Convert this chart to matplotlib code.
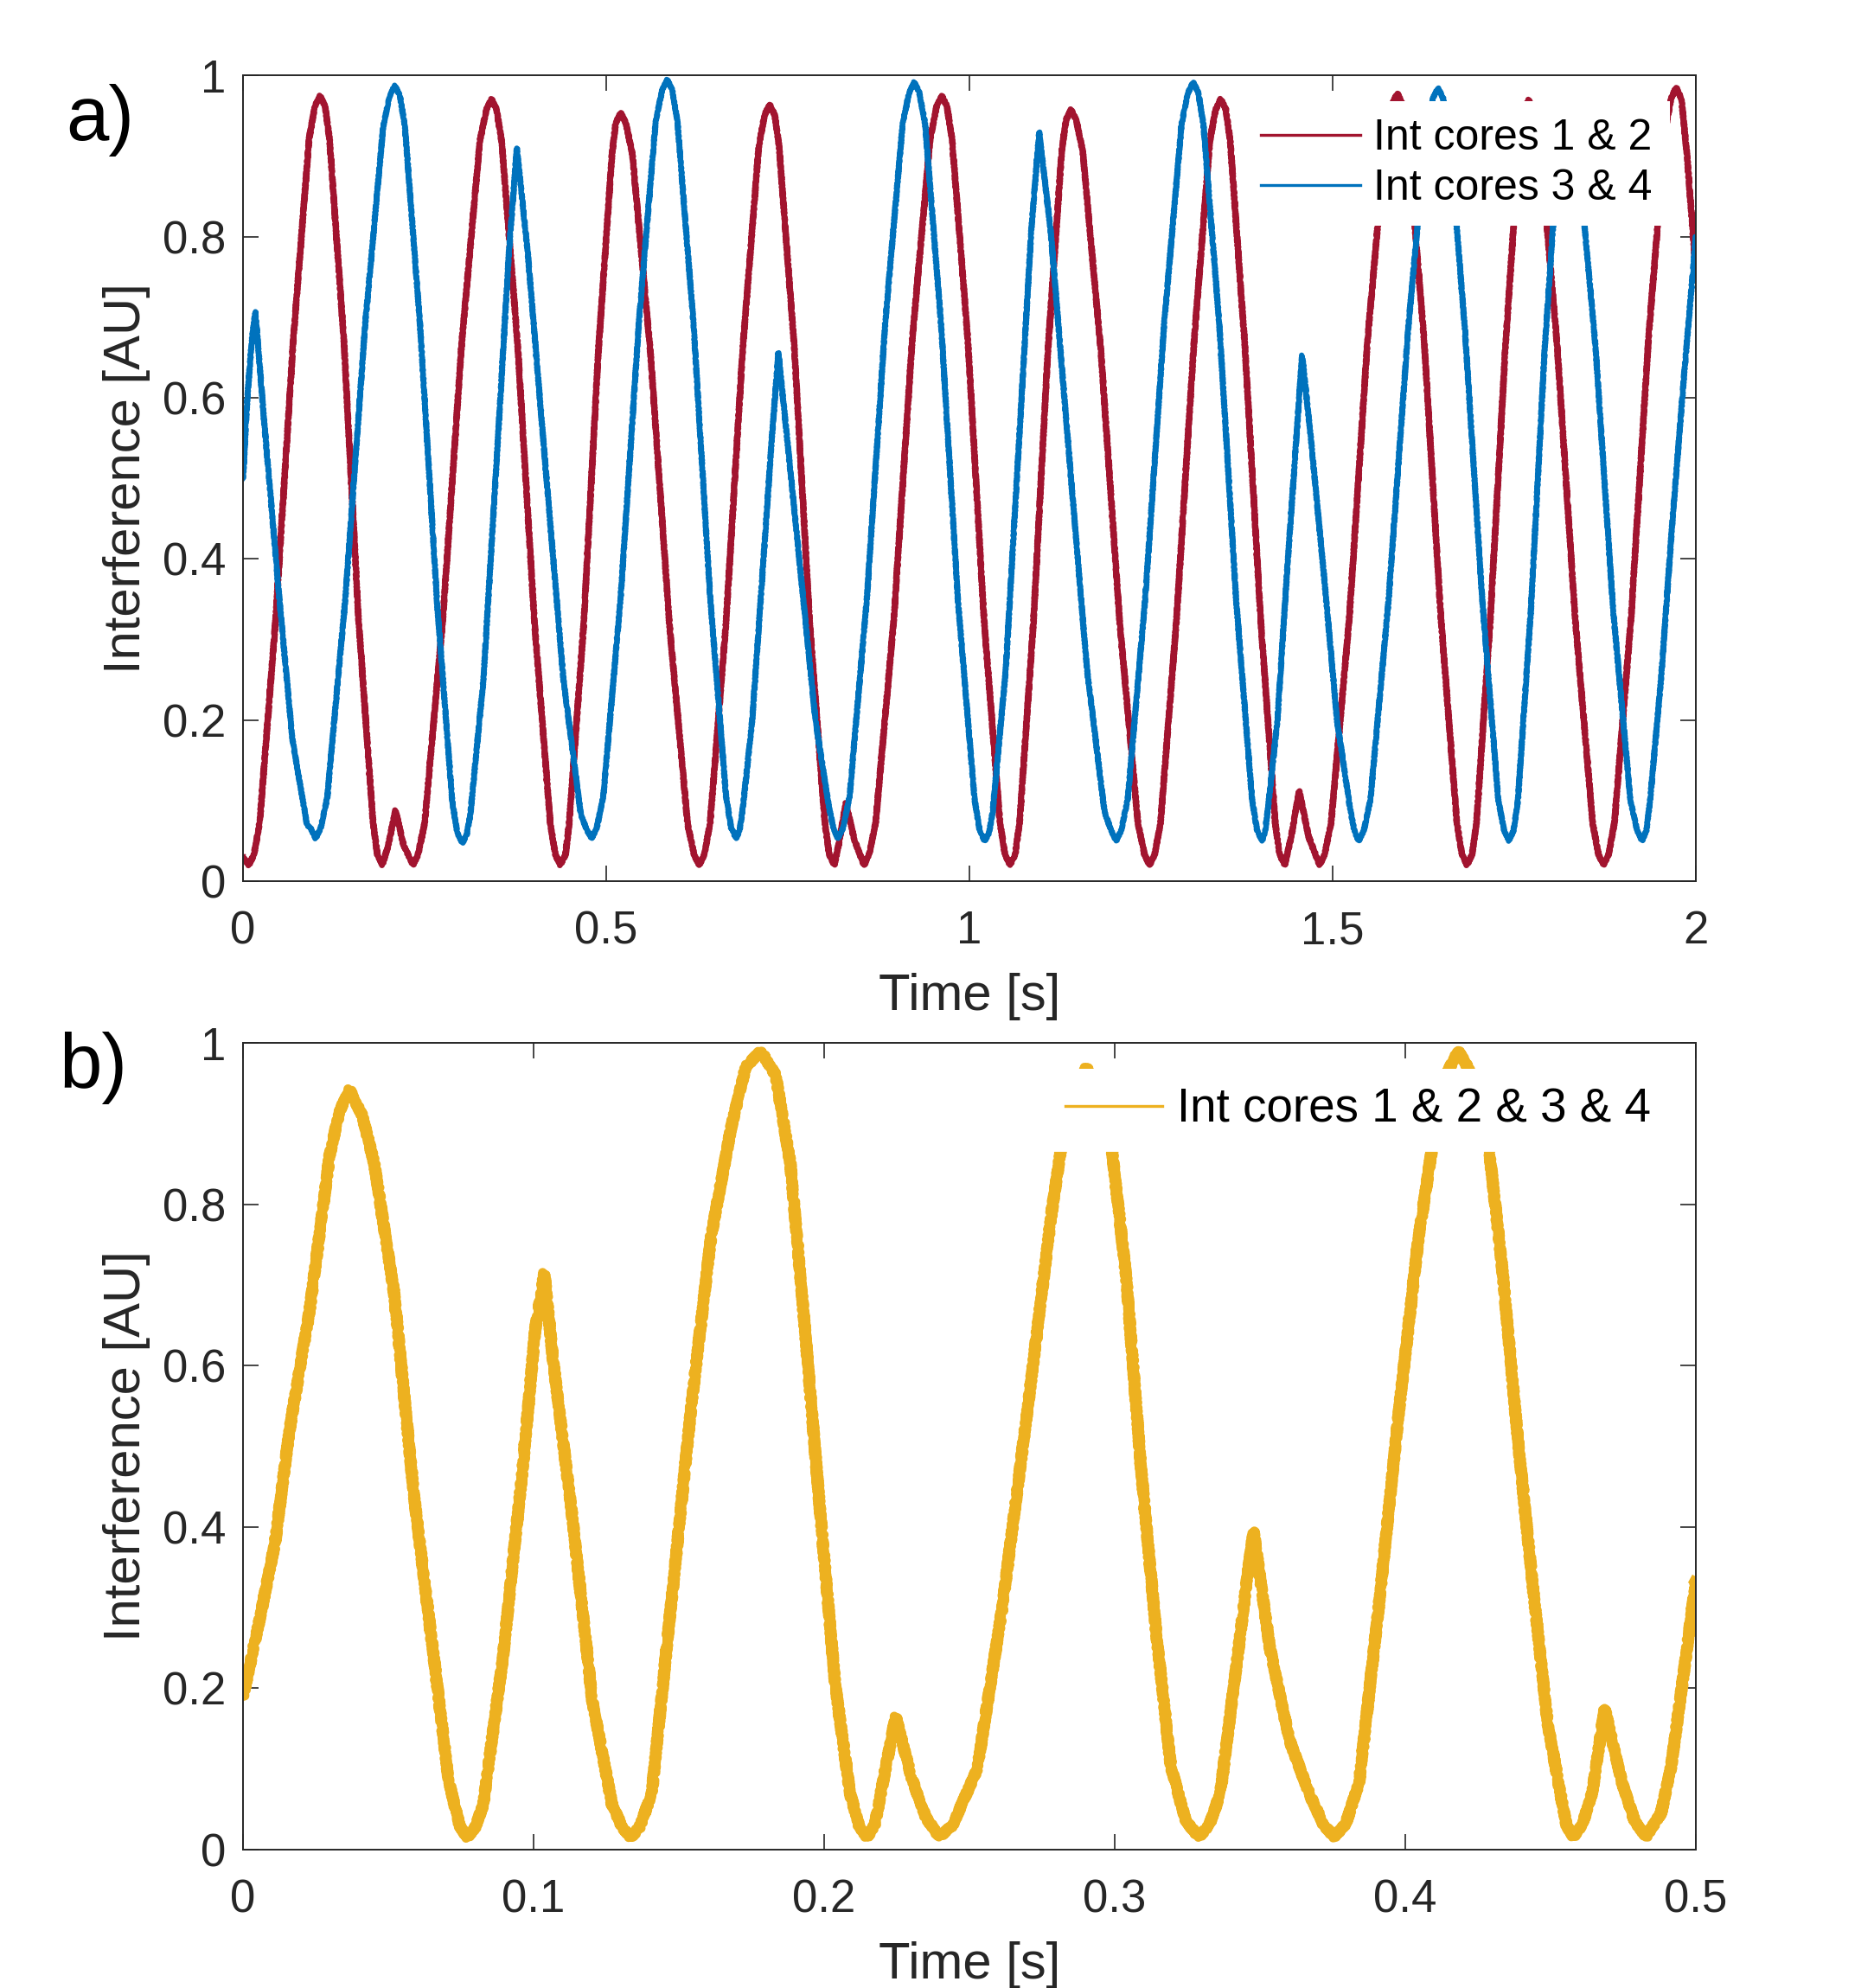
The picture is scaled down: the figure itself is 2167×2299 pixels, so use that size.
import matplotlib
matplotlib.use("Agg")
import matplotlib.pyplot as plt
from matplotlib.ticker import FuncFormatter

plt.rcParams['font.family'] = ['Liberation Sans', 'DejaVu Sans']

# ---------------- data ----------------
t_red = [0.000, 0.008, 0.015, 0.023, 0.045, 0.069, 0.091, 0.099, 0.106, 0.113, 0.119,
         0.139, 0.159, 0.179, 0.185, 0.192, 0.200, 0.210, 0.221, 0.234, 0.241, 0.250,
         0.275, 0.301, 0.326, 0.335, 0.342, 0.349, 0.356, 0.378, 0.401, 0.423, 0.430,
         0.437, 0.444, 0.449, 0.469, 0.489, 0.508, 0.513, 0.520, 0.527, 0.536, 0.561,
         0.587, 0.612, 0.621, 0.628, 0.635, 0.643, 0.665, 0.688, 0.710, 0.718, 0.725,
         0.732, 0.738, 0.759, 0.780, 0.801, 0.807, 0.814, 0.821, 0.830, 0.842, 0.855,
         0.862, 0.871, 0.896, 0.921, 0.946, 0.955, 0.962, 0.969, 0.976, 0.998, 1.020,
         1.042, 1.049, 1.056, 1.063, 1.069, 1.088, 1.108, 1.127, 1.133, 1.140, 1.147,
         1.156, 1.181, 1.207, 1.232, 1.241, 1.248, 1.255, 1.263, 1.285, 1.309, 1.331,
         1.339, 1.346, 1.353, 1.359, 1.379, 1.401, 1.421, 1.427, 1.434, 1.443, 1.454,
         1.467, 1.482, 1.489, 1.498, 1.523, 1.548, 1.573, 1.582, 1.589, 1.596, 1.603,
         1.626, 1.649, 1.671, 1.678, 1.685, 1.692, 1.698, 1.717, 1.738, 1.757, 1.763,
         1.770, 1.777, 1.785, 1.809, 1.834, 1.858, 1.866, 1.873, 1.880, 1.888, 1.911,
         1.935, 1.958, 1.966, 1.973, 1.980, 1.988, 2.000]
v_red = [0.030, 0.020, 0.033, 0.073, 0.326, 0.669, 0.922, 0.962, 0.975, 0.962, 0.922,
         0.669, 0.326, 0.073, 0.033, 0.020, 0.045, 0.088, 0.045, 0.020, 0.033, 0.072,
         0.324, 0.667, 0.919, 0.958, 0.971, 0.958, 0.919, 0.667, 0.324, 0.072, 0.033,
         0.020, 0.033, 0.071, 0.319, 0.655, 0.903, 0.941, 0.954, 0.941, 0.903, 0.655,
         0.319, 0.071, 0.033, 0.020, 0.033, 0.072, 0.322, 0.662, 0.912, 0.951, 0.964,
         0.951, 0.912, 0.662, 0.322, 0.072, 0.033, 0.020, 0.050, 0.097, 0.050, 0.020,
         0.033, 0.073, 0.326, 0.669, 0.922, 0.962, 0.975, 0.962, 0.922, 0.669, 0.326,
         0.073, 0.033, 0.020, 0.033, 0.072, 0.320, 0.658, 0.906, 0.945, 0.958, 0.945,
         0.906, 0.658, 0.320, 0.072, 0.033, 0.020, 0.033, 0.072, 0.324, 0.667, 0.919,
         0.958, 0.971, 0.958, 0.919, 0.667, 0.324, 0.072, 0.033, 0.020, 0.055, 0.112,
         0.055, 0.020, 0.033, 0.073, 0.327, 0.671, 0.925, 0.965, 0.978, 0.965, 0.925,
         0.671, 0.327, 0.073, 0.033, 0.020, 0.033, 0.072, 0.324, 0.666, 0.918, 0.957,
         0.970, 0.957, 0.918, 0.666, 0.324, 0.072, 0.033, 0.020, 0.033, 0.073, 0.329,
         0.676, 0.932, 0.972, 0.985, 0.972, 0.900, 0.755]

t_blue = [0.000, 0.006, 0.012, 0.017, 0.029, 0.049, 0.068, 0.088, 0.093, 0.100, 0.107,
          0.116, 0.141, 0.168, 0.193, 0.202, 0.209, 0.216, 0.223, 0.244, 0.267, 0.288,
          0.295, 0.302, 0.308, 0.313, 0.331, 0.349, 0.366, 0.377, 0.392, 0.416, 0.441,
          0.465, 0.473, 0.480, 0.487, 0.496, 0.520, 0.545, 0.568, 0.577, 0.584, 0.591,
          0.598, 0.620, 0.643, 0.665, 0.672, 0.679, 0.684, 0.688, 0.701, 0.715, 0.728,
          0.737, 0.749, 0.768, 0.788, 0.807, 0.813, 0.819, 0.826, 0.835, 0.859, 0.884,
          0.908, 0.917, 0.924, 0.931, 0.939, 0.961, 0.984, 1.007, 1.014, 1.021, 1.027,
          1.032, 1.050, 1.068, 1.085, 1.096, 1.112, 1.136, 1.162, 1.186, 1.195, 1.202,
          1.209, 1.218, 1.242, 1.268, 1.292, 1.301, 1.308, 1.315, 1.322, 1.344, 1.367,
          1.389, 1.396, 1.403, 1.407, 1.411, 1.424, 1.437, 1.450, 1.458, 1.470, 1.488,
          1.506, 1.524, 1.530, 1.536, 1.543, 1.552, 1.577, 1.604, 1.629, 1.638, 1.645,
          1.652, 1.660, 1.682, 1.706, 1.728, 1.736, 1.743, 1.749, 1.755, 1.773, 1.792,
          1.810, 1.815, 1.822, 1.829, 1.838, 1.862, 1.886, 1.910, 1.919, 1.926, 1.932,
          1.937, 1.952, 1.968, 1.984, 2.000]
v_blue = [0.500, 0.600, 0.670, 0.707, 0.572, 0.361, 0.176, 0.070, 0.066, 0.053, 0.066,
          0.104, 0.352, 0.689, 0.937, 0.975, 0.988, 0.975, 0.936, 0.687, 0.348, 0.099,
          0.060, 0.047, 0.058, 0.083, 0.251, 0.519, 0.780, 0.910, 0.780, 0.519, 0.251,
          0.083, 0.064, 0.053, 0.066, 0.105, 0.354, 0.694, 0.943, 0.982, 0.995, 0.982,
          0.943, 0.694, 0.354, 0.105, 0.066, 0.053, 0.065, 0.090, 0.200, 0.380, 0.550,
          0.656, 0.550, 0.380, 0.200, 0.090, 0.065, 0.053, 0.066, 0.105, 0.353, 0.692,
          0.940, 0.979, 0.992, 0.979, 0.940, 0.691, 0.351, 0.102, 0.063, 0.050, 0.060,
          0.086, 0.262, 0.542, 0.806, 0.930, 0.806, 0.542, 0.262, 0.086, 0.063, 0.050,
          0.063, 0.102, 0.351, 0.691, 0.940, 0.979, 0.992, 0.979, 0.940, 0.691, 0.351,
          0.102, 0.063, 0.050, 0.062, 0.090, 0.200, 0.380, 0.550, 0.653, 0.550, 0.380,
          0.200, 0.090, 0.062, 0.050, 0.063, 0.101, 0.349, 0.686, 0.934, 0.972, 0.985,
          0.972, 0.934, 0.686, 0.349, 0.101, 0.063, 0.050, 0.063, 0.100, 0.338, 0.662,
          0.900, 0.938, 0.950, 0.938, 0.900, 0.662, 0.338, 0.100, 0.063, 0.050, 0.063,
          0.100, 0.250, 0.450, 0.630, 0.800]

t_all = [0.0000, 0.0060, 0.0110, 0.0160, 0.0230, 0.0298, 0.0332, 0.0367, 0.0410, 0.0452,
         0.0520, 0.0588, 0.0656, 0.0708, 0.0745, 0.0771, 0.0800, 0.0827, 0.0895, 0.0963,
         0.1006, 0.1037, 0.1066, 0.1134, 0.1202, 0.1270, 0.1305, 0.1335, 0.1365, 0.1407,
         0.1475, 0.1543, 0.1611, 0.1680, 0.1730, 0.1782, 0.1833, 0.1884, 0.1935, 0.1986,
         0.2038, 0.2089, 0.2120, 0.2148, 0.2175, 0.2195, 0.2246, 0.2300, 0.2350, 0.2396,
         0.2442, 0.2527, 0.2613, 0.2698, 0.2783, 0.2834, 0.2903, 0.2988, 0.3039, 0.3090,
         0.3142, 0.3193, 0.3245, 0.3290, 0.3325, 0.3363, 0.3423, 0.3457, 0.3478, 0.3534,
         0.3602, 0.3670, 0.3720, 0.3756, 0.3795, 0.3841, 0.3910, 0.3978, 0.4046, 0.4097,
         0.4140, 0.4183, 0.4230, 0.4285, 0.4336, 0.4387, 0.4439, 0.4490, 0.4541, 0.4555,
         0.4579, 0.4610, 0.4643, 0.4686, 0.4746, 0.4790, 0.4828, 0.4880, 0.4915, 0.4966,
         0.5000]
v_all = [0.190, 0.290, 0.380, 0.520, 0.670, 0.860, 0.915, 0.942, 0.910, 0.850,
         0.690, 0.440, 0.240, 0.085, 0.030, 0.015, 0.028, 0.056, 0.240, 0.475,
         0.645, 0.715, 0.610, 0.410, 0.185, 0.056, 0.028, 0.015, 0.028, 0.070,
         0.310, 0.550, 0.760, 0.895, 0.970, 0.990, 0.960, 0.850, 0.640, 0.420,
         0.205, 0.070, 0.030, 0.015, 0.032, 0.070, 0.165, 0.090, 0.040, 0.016,
         0.030, 0.100, 0.300, 0.540, 0.790, 0.915, 0.970, 0.875, 0.712, 0.475,
         0.272, 0.103, 0.035, 0.016, 0.030, 0.069, 0.240, 0.340, 0.395, 0.250,
         0.135, 0.069, 0.030, 0.016, 0.032, 0.083, 0.306, 0.543, 0.760, 0.880,
         0.960, 0.990, 0.960, 0.880, 0.712, 0.510, 0.326, 0.157, 0.056, 0.030,
         0.016, 0.032, 0.070, 0.175, 0.083, 0.035, 0.016, 0.045, 0.103, 0.240,
         0.333]

label_red = "Int cores 1 & 2"
label_blue = "Int cores 3 & 4"
label_all = "Int cores 1 & 2 & 3 & 4"
xticks_a = [0, 0.5, 1, 1.5, 2]
xticks_b = [0, 0.1, 0.2, 0.3, 0.4, 0.5]
yticks = [0, 0.2, 0.4, 0.6, 0.8, 1]

# ---------------- styling ----------------
C_RED = '#A2142F'
C_BLUE = '#0072BD'
C_YEL = '#EDB120'
C_AX = '#262626'

W, H, DPI = 2167, 2299, 200
fig = plt.figure(figsize=(W / DPI, H / DPI), dpi=DPI)

ax1 = fig.add_axes([281 / W, 1 - 1019 / H, 1680 / W, 931.5 / H])
ax2 = fig.add_axes([281 / W, 1 - 2139 / H, 1680 / W, 933 / H])

fmt = FuncFormatter(lambda v, p: '%g' % v)

l1, = ax1.plot(t_red, v_red, color=C_RED, lw=2.4, label=label_red, solid_joinstyle='round')
l2, = ax1.plot(t_blue, v_blue, color=C_BLUE, lw=2.2, label=label_blue, solid_joinstyle='round')
l3, = ax2.plot(t_all, v_all, color=C_YEL, lw=3.8, label=label_all, solid_joinstyle='round')
for ln, sc in ((l1, 0.8), (l2, 0.8), (l3, 2.2)):
    ln.set_sketch_params(scale=sc, length=3, randomness=2)

for ax, xt, xmax in ((ax1, xticks_a, 2), (ax2, xticks_b, 0.5)):
    ax.set_xlim(0, xmax)
    ax.set_ylim(0, 1)
    ax.set_xticks(xt)
    ax.set_yticks(yticks)
    ax.xaxis.set_major_formatter(fmt)
    ax.yaxis.set_major_formatter(fmt)
    ax.tick_params(direction='in', length=6.5, width=0.6, color=C_AX,
                   top=True, right=True, labelsize=19, labelcolor=C_AX)
    ax.tick_params(axis='x', pad=12)
    ax.tick_params(axis='y', pad=7)
    for s in ax.spines.values():
        s.set_linewidth(0.7)
        s.set_color(C_AX)
    ax.set_xlabel('Time [s]', fontsize=21.5, color=C_AX, labelpad=8)
    ax.set_ylabel('Interference [AU]', fontsize=21.5, color=C_AX, labelpad=5)

leg1 = ax1.legend(loc='upper right', bbox_to_anchor=(0.982, 0.968), borderaxespad=0,
                  fontsize=18, frameon=True, fancybox=False, framealpha=1,
                  facecolor='white', edgecolor='none', handlelength=2.3,
                  handletextpad=0.3, labelspacing=0.24, borderpad=0.4)
leg2 = ax2.legend(loc='upper right', bbox_to_anchor=(0.982, 0.968), borderaxespad=0,
                  fontsize=19.7, frameon=True, fancybox=False, framealpha=1,
                  facecolor='white', edgecolor='none', handlelength=2.05,
                  handletextpad=0.3, labelspacing=0.24, borderpad=0.4)
for lg in (leg1, leg2):
    for h in lg.get_lines():
        h.set_linewidth(1.2)
        h.set_sketch_params(None)

fig.text(76 / W, 1 - 161.7 / H, 'a)', fontsize=32, va='baseline', ha='left')
fig.text(68 / W, 1 - 1258 / H, 'b)', fontsize=32, va='baseline', ha='left')

fig.savefig('out.png', dpi=DPI)
